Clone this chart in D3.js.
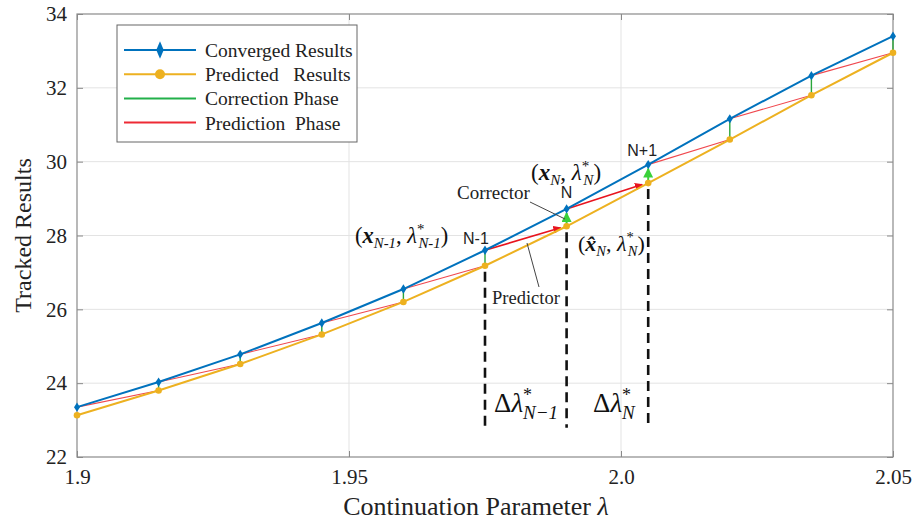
<!DOCTYPE html>
<html>
<head>
<meta charset="utf-8">
<script src="https://cdn.jsdelivr.net/npm/d3@7"></script>
<style>
body { margin: 0; background: #fff; }
svg { display: block; }
</style>
</head>
<body>
<svg id="chart" width="921" height="520"></svg>
<script>
// data
var lambdaVals = [1.9, 1.915, 1.93, 1.945, 1.96, 1.975, 1.99, 2.005, 2.02, 2.035, 2.05]
var converged = [23.35, 24.03, 24.78, 25.63, 26.55, 27.6, 28.72, 29.92, 31.16, 32.33, 33.4]
var predicted = [23.13, 23.8, 24.52, 25.32, 26.2, 27.18, 28.25, 29.42, 30.6, 31.8, 32.95]
var xTicks = [1.9, 1.95, 2.0, 2.05]
var xTickLabels = ['1.9', '1.95', '2.0', '2.05']
var yTicks = [22, 24, 26, 28, 30, 32, 34]
var legendNames = ['Converged Results', 'Predicted\u00a0\u00a0 Results', 'Correction Phase', 'Prediction\u00a0 Phase']
var dashLambda = [1.975, 1.99, 2.005]
var stepLabels = ['N-1', 'N', 'N+1']

var svg = d3.select('svg#chart')
var mLeft = 77, mRight = 893, mTop = 14, mBottom = 457
var x = d3.scaleLinear().domain([1.9, 2.05]).range([mLeft, mRight])
var y = d3.scaleLinear().domain([22, 34]).range([mBottom, mTop])

var blue = '#0072BD', orange = '#EDB120'
var serif = '"Liberation Serif", "Times New Roman", serif'
var sans = '"Liberation Sans", Arial, sans-serif'

var defs = svg.append('defs')
function arrowHead(id, color){
	defs.append('marker')
	.attr('id', id)
	.attr('viewBox', '0 0 10 10')
	.attr('refX', 9).attr('refY', 5)
	.attr('markerWidth', 5).attr('markerHeight', 5)
	.attr('orient', 'auto')
	.append('path').attr('d', 'M0,0 L10,5 L0,10 Z').attr('fill', color)
}
arrowHead('redHead', '#e8141e')
arrowHead('greenHead', '#3ad13a')

// grid
svg.append('g').selectAll('line').data(yTicks.slice(1, -1)).enter().append('line')
	.attr('x1', mLeft).attr('x2', mRight)
	.attr('y1', d => y(d)).attr('y2', d => y(d))
	.attr('stroke', '#e3e3e3').attr('stroke-width', 1)
svg.append('g').selectAll('line').data(xTicks.slice(1, -1)).enter().append('line')
	.attr('x1', d => x(d)).attr('x2', d => x(d))
	.attr('y1', mTop).attr('y2', mBottom)
	.attr('stroke', '#e3e3e3').attr('stroke-width', 1)

// axes (inward ticks on all sides)
var axisColor = '#8a8a8a'
function styleAxis(g){
	g.select('.domain').remove()
	g.selectAll('.tick line').attr('stroke', axisColor)
	g.selectAll('.tick text').attr('font-family', serif).attr('font-size', 21).attr('fill', '#222')
}
svg.append('g').attr('transform', 'translate(' + mLeft + ',0)')
	.call(d3.axisLeft(y).tickValues(yTicks).tickSize(-6).tickPadding(10).tickFormat(d3.format('d')))
	.call(styleAxis)
svg.append('g').attr('transform', 'translate(' + mRight + ',0)')
	.call(d3.axisRight(y).tickValues(yTicks).tickSize(-6).tickFormat(''))
	.call(styleAxis)
svg.append('g').attr('transform', 'translate(0,' + mBottom + ')')
	.call(d3.axisBottom(x).tickValues(xTicks).tickSize(-6).tickPadding(12).tickFormat((d, i) => xTickLabels[i]))
	.call(styleAxis)
svg.append('g').attr('transform', 'translate(0,' + mTop + ')')
	.call(d3.axisTop(x).tickValues(xTicks).tickSize(-6).tickFormat(''))
	.call(styleAxis)
svg.append('rect').attr('x', mLeft).attr('y', mTop)
	.attr('width', mRight - mLeft).attr('height', mBottom - mTop)
	.attr('fill', 'none').attr('stroke', axisColor).attr('stroke-width', 1.2)

// axis titles
svg.append('text').attr('transform', 'translate(31,' + ((mTop + mBottom) / 2) + ') rotate(-90)')
	.attr('text-anchor', 'middle').attr('font-family', serif).attr('font-size', 24).attr('fill', '#222')
	.text('Tracked Results')
var xt = svg.append('text').attr('x', 476).attr('y', 515)
	.attr('text-anchor', 'middle').attr('font-family', serif).attr('font-size', 26).attr('fill', '#222')
xt.append('tspan').text('Continuation Parameter ')
xt.append('tspan').attr('font-style', 'italic').text('\u03bb')

var idx = d3.range(lambdaVals.length)
var hi = [5, 6] // prediction arrows N-1 -> N and N -> N+1

// prediction phase (red): converged i -> predicted i+1
svg.append('g').selectAll('line').data(idx.slice(0, -1)).enter().append('line')
	.attr('x1', i => x(lambdaVals[i])).attr('y1', i => y(converged[i]))
	.attr('x2', i => x(lambdaVals[i + 1]) - (hi.includes(i) ? 6 : 0))
	.attr('y2', i => y(predicted[i + 1]) + (hi.includes(i) ? 1.5 : 0))
	.attr('stroke', i => hi.includes(i) ? '#e8141e' : '#f0484e')
	.attr('stroke-width', i => hi.includes(i) ? 1.6 : 1.1)
	.attr('marker-end', i => hi.includes(i) ? 'url(#redHead)' : null)

// correction phase (green): predicted i -> converged i
svg.append('g').selectAll('line').data(idx.slice(1)).enter().append('line')
	.attr('x1', i => x(lambdaVals[i])).attr('x2', i => x(lambdaVals[i]))
	.attr('y1', i => y(predicted[i]))
	.attr('y2', i => y(converged[i]) + (i === 6 || i === 7 ? 4 : 0))
	.attr('stroke', i => (i === 6 || i === 7) ? '#3ad13a' : '#2aa63a')
	.attr('stroke-width', i => (i === 6 || i === 7) ? 2 : 1.4)
	.attr('marker-end', i => (i === 6 || i === 7) ? 'url(#greenHead)' : null)

// series lines
var line = d3.line().x(i => x(lambdaVals[i]))
svg.append('path').datum(idx).attr('fill', 'none').attr('stroke', orange).attr('stroke-width', 2)
	.attr('d', line.y(i => y(predicted[i])))
svg.append('path').datum(idx).attr('fill', 'none').attr('stroke', blue).attr('stroke-width', 2)
	.attr('d', line.y(i => y(converged[i])))

// markers
svg.append('g').selectAll('circle').data(idx).enter().append('circle')
	.attr('cx', i => x(lambdaVals[i])).attr('cy', i => y(predicted[i]))
	.attr('r', 3.3).attr('fill', orange)
var diamond = d3.symbol().type(d3.symbolDiamond).size(28)
svg.append('g').selectAll('path').data(idx).enter().append('path')
	.attr('transform', i => 'translate(' + x(lambdaVals[i]) + ',' + y(converged[i]) + ') scale(1.05,0.95)')
	.attr('d', diamond).attr('fill', blue)

// dashed step lines
var dashBottom = 22.79
svg.append('g').selectAll('line').data(dashLambda).enter().append('line')
	.attr('x1', d => x(d)).attr('x2', d => x(d))
	.attr('y1', (d, i) => y(predicted[5 + i]) + 6)
	.attr('y2', y(dashBottom))
	.attr('stroke', '#111').attr('stroke-width', 2.6).attr('stroke-dasharray', '10,6')

// step labels N-1, N, N+1
svg.append('g').selectAll('text').data(stepLabels).enter().append('text')
	.attr('x', (d, i) => x(dashLambda[i]) + (i === 0 ? -22 : i === 1 ? 0 : -6))
	.attr('y', (d, i) => y(converged[5 + i]) + (i === 0 ? -6 : i === 1 ? -11 : -9))
	.attr('text-anchor', (d, i) => i === 0 ? 'start' : 'middle')
	.attr('font-family', sans).attr('font-size', 16).attr('fill', '#222')
	.text(d => d)

// math labels
function mathLabel(px, py, hat, sub, size){
	var t = svg.append('text').attr('x', px).attr('y', py)
		.attr('font-family', serif).attr('font-size', size).attr('fill', '#111')
	t.append('tspan').text('(')
	t.append('tspan').attr('font-weight', 'bold').attr('font-style', 'italic').text(hat ? 'x\u0302' : 'x')
	t.append('tspan').attr('font-style', 'italic').attr('font-size', size * 0.66).attr('dy', 5).text(sub)
	t.append('tspan').attr('dy', -5).text(', ')
	t.append('tspan').attr('font-style', 'italic').text('\u03bb')
	t.append('tspan').attr('font-size', size * 0.66).attr('dy', -9).text('*')
	t.append('tspan').attr('font-style', 'italic').attr('font-size', size * 0.66).attr('dy', 14).attr('dx', -6).text(sub)
	t.append('tspan').attr('dy', -5).text(')')
}
mathLabel(355, 243, false, 'N-1', 22.5)
mathLabel(531, 180, false, 'N', 23)
mathLabel(578, 251, true, 'N', 22)

function deltaLabel(px, py, sub){
	var t = svg.append('text').attr('x', px).attr('y', py)
		.attr('font-family', serif).attr('font-size', 27).attr('fill', '#111')
	t.append('tspan').text('\u0394')
	t.append('tspan').attr('font-style', 'italic').text('\u03bb')
	t.append('tspan').attr('font-size', 18).attr('dy', -11).text('*')
	t.append('tspan').attr('font-style', 'italic').attr('font-size', 19).attr('dy', 18).attr('dx', -9).text(sub)
}
deltaLabel(494, 412, 'N\u22121')
deltaLabel(593, 412, 'N')

// Corrector / Predictor callouts
svg.append('text').attr('x', 457).attr('y', 199).attr('font-family', serif).attr('font-size', 19).attr('fill', '#222').text('Corrector')
svg.append('line').attr('x1', 530).attr('y1', 202).attr('x2', 565).attr('y2', 219).attr('stroke', '#444').attr('stroke-width', 1)
svg.append('text').attr('x', 492).attr('y', 304).attr('font-family', serif).attr('font-size', 18.5).attr('fill', '#222').text('Predictor')
svg.append('line').attr('x1', 527).attr('y1', 243).attr('x2', 539).attr('y2', 287).attr('stroke', '#444').attr('stroke-width', 1)

// legend
var lg = svg.append('g')
lg.append('rect').attr('x', 117).attr('y', 25).attr('width', 240).attr('height', 117)
	.attr('fill', '#fff').attr('stroke', '#666').attr('stroke-width', 1)
var legendColors = [blue, orange, '#22b04a', '#ee2a35']
var rows = lg.selectAll('g.row').data(legendNames).enter().append('g')
	.attr('transform', (d, i) => 'translate(0,' + (50 + i * 24.2) + ')')
rows.append('line').attr('x1', 124).attr('x2', 196).attr('y1', 0).attr('y2', 0)
	.attr('stroke', (d, i) => legendColors[i]).attr('stroke-width', 2)
rows.filter((d, i) => i === 1).append('circle').attr('cx', 160).attr('cy', 0).attr('r', 5).attr('fill', orange)
rows.filter((d, i) => i === 0).append('path')
	.attr('transform', 'translate(160,0) scale(0.9,1.2)')
	.attr('d', d3.symbol().type(d3.symbolDiamond).size(60)).attr('fill', blue)
rows.append('text').attr('x', 205).attr('y', 7)
	.attr('font-family', serif).attr('font-size', 19.5).attr('fill', '#222')
	.text(d => d)
</script>
</body>
</html>
